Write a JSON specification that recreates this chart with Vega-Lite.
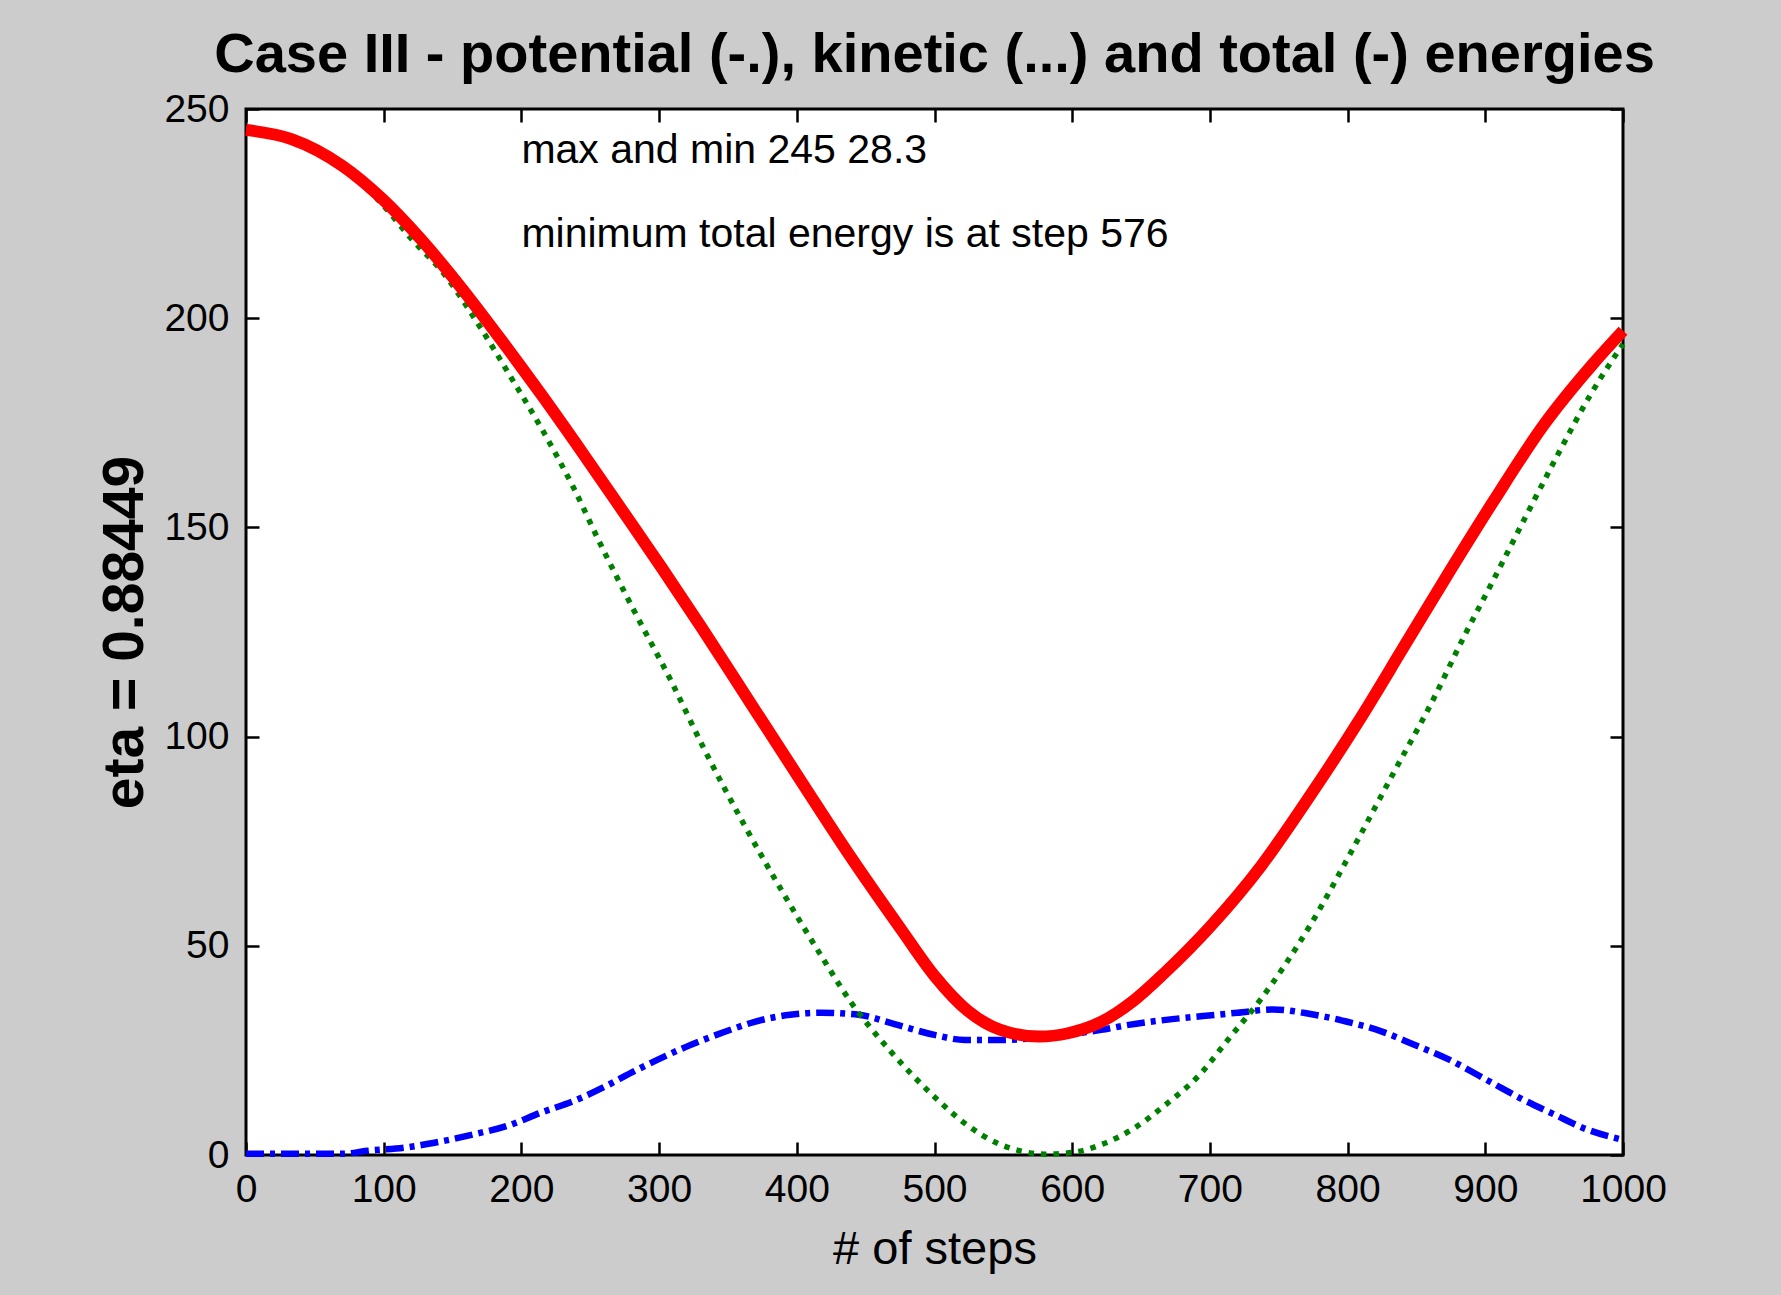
{
  "$schema": "https://vega.github.io/schema/vega-lite/v6.json",
  "autosize": {"type": "none"},
  "padding": {"left": 246, "top": 109, "right": 158, "bottom": 140},
  "width": 1377,
  "height": 1046,
  "background": "#cccccc",
  "title": {
    "text": "Case III - potential (-.), kinetic (...) and total (-) energies",
    "font": "Liberation Sans",
    "fontSize": 56,
    "fontWeight": "bold",
    "color": "#000000",
    "anchor": "middle",
    "frame": "group",
    "baseline": "alphabetic",
    "offset": -38
  },
  "config": {
    "view": {"fill": "#ffffff", "stroke": "#000000", "strokeWidth": 3},
    "axis": {"grid": false, "domain": false, "tickColor": "#000000", "tickWidth": 2.5, "tickSize": -13, "labelFlush": false, "labelOverlap": false, "labelBound": false}
  },
  "datasets": {
    "potential": [
      {"step": 0, "energy": 0.3}, {"step": 35, "energy": 0.3}, {"step": 70, "energy": 0.3}, {"step": 88, "energy": 1.0},
      {"step": 116, "energy": 1.8}, {"step": 141, "energy": 3.2}, {"step": 165, "energy": 4.9}, {"step": 190, "energy": 7.0},
      {"step": 214, "energy": 10.1}, {"step": 238, "energy": 12.9}, {"step": 261, "energy": 16.4}, {"step": 283, "energy": 20.2},
      {"step": 320, "energy": 25.9}, {"step": 332, "energy": 27.5}, {"step": 355, "energy": 30.3}, {"step": 370, "energy": 31.9},
      {"step": 395, "energy": 33.5}, {"step": 418, "energy": 34.0}, {"step": 445, "energy": 33.5}, {"step": 471, "energy": 31.3},
      {"step": 500, "energy": 28.7}, {"step": 522, "energy": 27.5}, {"step": 548, "energy": 27.5}, {"step": 572, "energy": 27.9},
      {"step": 597, "energy": 28.8}, {"step": 621, "energy": 29.9}, {"step": 641, "energy": 31.1}, {"step": 668, "energy": 32.3},
      {"step": 695, "energy": 33.2}, {"step": 720, "energy": 34.0}, {"step": 746, "energy": 34.8}, {"step": 773, "energy": 33.7},
      {"step": 799, "energy": 31.9}, {"step": 825, "energy": 29.5}, {"step": 848, "energy": 26.4}, {"step": 873, "energy": 22.9},
      {"step": 904, "energy": 17.4}, {"step": 927, "energy": 13.3}, {"step": 950, "energy": 9.7}, {"step": 973, "energy": 6.2},
      {"step": 1000, "energy": 3.6}
    ],
    "kinetic": [
      {"step": 0, "energy": 245.2}, {"step": 33, "energy": 242.6}, {"step": 70, "energy": 236.0}, {"step": 99, "energy": 227.2},
      {"step": 120, "energy": 219.0}, {"step": 143, "energy": 210.9}, {"step": 170, "energy": 197.9}, {"step": 192, "energy": 186.1},
      {"step": 214, "energy": 174.0}, {"step": 238, "energy": 159.4}, {"step": 258, "energy": 145.6}, {"step": 281, "energy": 130.6},
      {"step": 309, "energy": 113.1}, {"step": 332, "energy": 97.5}, {"step": 362, "energy": 78.8}, {"step": 391, "energy": 62.1},
      {"step": 417, "energy": 48.0}, {"step": 440, "energy": 36.2}, {"step": 467, "energy": 25.2}, {"step": 498, "energy": 14.5},
      {"step": 524, "energy": 7.1}, {"step": 545, "energy": 2.9}, {"step": 562, "energy": 1.0}, {"step": 580, "energy": 0.2},
      {"step": 600, "energy": 0.6}, {"step": 622, "energy": 2.6}, {"step": 644, "energy": 6.2}, {"step": 667, "energy": 11.8},
      {"step": 692, "energy": 19.0}, {"step": 714, "energy": 27.9}, {"step": 736, "energy": 36.8}, {"step": 773, "energy": 55.0},
      {"step": 805, "energy": 73.9}, {"step": 833, "energy": 91.1}, {"step": 861, "energy": 108.1}, {"step": 885, "energy": 124.2},
      {"step": 906, "energy": 137.5}, {"step": 930, "energy": 153.0}, {"step": 953, "energy": 167.6}, {"step": 976, "energy": 181.5},
      {"step": 1000, "energy": 193.8}
    ],
    "total": [
      {"step": 0, "energy": 245.0}, {"step": 33, "energy": 242.8}, {"step": 70, "energy": 236.4}, {"step": 99, "energy": 228.5},
      {"step": 128, "energy": 218.5}, {"step": 157, "energy": 207.0}, {"step": 186, "energy": 194.5}, {"step": 215, "energy": 181.5},
      {"step": 244, "energy": 168.0}, {"step": 273, "energy": 154.2}, {"step": 302, "energy": 140.3}, {"step": 331, "energy": 126.0},
      {"step": 367, "energy": 107.7}, {"step": 403, "energy": 89.4}, {"step": 439, "energy": 71.3}, {"step": 476, "energy": 53.8},
      {"step": 500, "energy": 42.8}, {"step": 524, "energy": 34.5}, {"step": 548, "energy": 29.9}, {"step": 576, "energy": 28.3},
      {"step": 597, "energy": 29.1}, {"step": 621, "energy": 31.8}, {"step": 645, "energy": 37.0}, {"step": 667, "energy": 43.5},
      {"step": 700, "energy": 54.5}, {"step": 737, "energy": 69.0}, {"step": 773, "energy": 86.0}, {"step": 809, "energy": 104.2},
      {"step": 840, "energy": 121.0}, {"step": 870, "energy": 137.3}, {"step": 906, "energy": 156.3}, {"step": 942, "energy": 174.3},
      {"step": 978, "energy": 189.0}, {"step": 1000, "energy": 197.0}
    ],
    "notes": [
      {"step": 200, "energy": 240, "label": "max and min 245 28.3"},
      {"step": 200, "energy": 220, "label": "minimum total energy is at step 576"}
    ]
  },
  "layer": [
    {
      "data": {"name": "potential"},
      "mark": {"type": "line", "color": "#0000ff", "strokeWidth": 6.5, "strokeDash": [18, 6, 5, 6], "strokeCap": "butt", "interpolate": "monotone"},
      "encoding": {
        "x": {
          "field": "step", "type": "quantitative",
          "scale": {"domain": [0, 1000], "nice": false, "zero": false},
          "axis": {
            "orient": "bottom", "values": [0, 100, 200, 300, 400, 500, 600, 700, 800, 900, 1000], "format": "d",
            "labelFont": "Liberation Sans", "labelFontSize": 39, "labelColor": "#000000", "labelPadding": 28,
            "title": "# of steps", "titleFont": "Liberation Sans", "titleFontSize": 47, "titleFontWeight": "normal",
            "titleColor": "#000000", "titleBaseline": "alphabetic", "titlePadding": 54
          }
        },
        "y": {
          "field": "energy", "type": "quantitative",
          "scale": {"domain": [0, 250], "nice": false, "zero": false},
          "axis": {
            "orient": "left", "values": [0, 50, 100, 150, 200, 250], "format": "d",
            "labelFont": "Liberation Sans", "labelFontSize": 39, "labelColor": "#000000", "labelPadding": 30,
            "title": "eta = 0.88449", "titleFont": "Liberation Sans", "titleFontSize": 57, "titleFontWeight": "bold",
            "titleColor": "#000000", "titleBaseline": "alphabetic", "titlePadding": 21
          }
        }
      }
    },
    {
      "data": {"name": "kinetic"},
      "mark": {"type": "line", "color": "#008000", "strokeWidth": 5.5, "strokeDash": [5.5, 7], "strokeCap": "butt", "interpolate": "monotone"},
      "encoding": {
        "x": {"field": "step", "type": "quantitative", "scale": {"domain": [0, 1000], "nice": false, "zero": false}, "axis": null},
        "y": {"field": "energy", "type": "quantitative", "scale": {"domain": [0, 250], "nice": false, "zero": false}, "axis": null}
      }
    },
    {
      "data": {"name": "total"},
      "mark": {"type": "line", "color": "#ff0000", "strokeWidth": 12, "interpolate": "monotone"},
      "encoding": {
        "x": {
          "field": "step", "type": "quantitative", "scale": {"domain": [0, 1000], "nice": false, "zero": false},
          "axis": {"orient": "top", "values": [0, 100, 200, 300, 400, 500, 600, 700, 800, 900, 1000], "labels": false, "title": null}
        },
        "y": {
          "field": "energy", "type": "quantitative", "scale": {"domain": [0, 250], "nice": false, "zero": false},
          "axis": {"orient": "right", "values": [0, 50, 100, 150, 200, 250], "labels": false, "title": null}
        }
      }
    },
    {
      "data": {"name": "notes"},
      "mark": {"type": "text", "font": "Liberation Sans", "fontSize": 41, "color": "#000000", "align": "left", "baseline": "middle"},
      "encoding": {
        "x": {"field": "step", "type": "quantitative", "scale": {"domain": [0, 1000], "nice": false, "zero": false}, "axis": null},
        "y": {"field": "energy", "type": "quantitative", "scale": {"domain": [0, 250], "nice": false, "zero": false}, "axis": null},
        "text": {"field": "label", "type": "nominal"}
      }
    }
  ],
  "resolve": {"axis": {"x": "independent", "y": "independent"}}
}
